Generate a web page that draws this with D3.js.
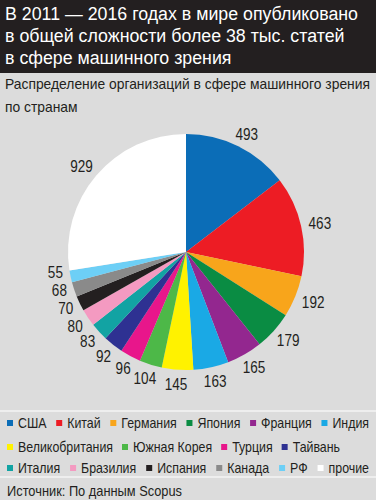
<!DOCTYPE html>
<html>
<head>
<meta charset="utf-8">
<script src="https://cdn.jsdelivr.net/npm/d3@7"></script>
<style>
  body { margin: 0; background: #dcdcdc; }
  svg { display: block; }
  text { font-family: "Liberation Sans", Arial, sans-serif; }
</style>
</head>
<body>
<script>
// data, clockwise from 12 o'clock
const countries = ['США', 'Китай', 'Германия', 'Япония', 'Франция', 'Индия',
  'Великобритания', 'Южная Корея', 'Турция', 'Тайвань',
  'Италия', 'Бразилия', 'Испания', 'Канада', 'РФ', 'прочие'];
const counts = [493, 463, 192, 179, 165, 163, 145, 104, 96, 92, 83, 80, 70, 68, 55, 929];
const colors = ['#0b6db7', '#ed1c24', '#f8a51b', '#0a8c43', '#93278f', '#1aa9e5',
  '#fff200', '#4db848', '#e8168b', '#2e3192', '#12a3a3', '#f49ac1',
  '#231f20', '#8a8a8a', '#6dcff6', '#ffffff'];
const legendRows = [6, 4, 6]; // items per legend line
const titleLines = ['В 2011 — 2016 годах в мире опубликовано',
  'в общей сложности более 38 тыс. статей', 'в сфере машинного зрения'];
const subtitleLines = ['Распределение организаций в сфере машинного зрения', 'по странам'];
const source = 'Источник: По данным Scopus';

const W = 376, H = 500;
const ink = '#231f20';
const svg = d3.select('body').append('svg').attr('width', W).attr('height', H);

// the original face is a condensed grotesque, so squeeze a normal one
function squeeze(sel, factor) {
  sel.each(function () {
    const w = this.getComputedTextLength();
    d3.select(this).attr('textLength', w * factor).attr('lengthAdjust', 'spacingAndGlyphs');
  });
}
function factorFor(node, target) { return target / node.getComputedTextLength(); }
const lenOf = node => +node.getAttribute('textLength');

svg.append('rect').attr('width', W).attr('height', H).attr('fill', '#dcdcdc');

// dark header
svg.append('rect').attr('width', W).attr('height', 73).attr('fill', ink);
const title = svg.append('g').selectAll('text')
  .data(titleLines)
  .join('text')
  .attr('x', 5)
  .attr('y', (d, i) => 20 + i * 22)
  .attr('fill', '#fff')
  .attr('font-size', 18)
  .text(d => d);
squeeze(title, factorFor(title.node(), 353));

const sub = svg.append('g').selectAll('text')
  .data(subtitleLines)
  .join('text')
  .attr('x', 5)
  .attr('y', (d, i) => 89 + i * 23)
  .attr('fill', ink)
  .attr('font-size', 14.5)
  .text(d => d);
squeeze(sub, factorFor(sub.node(), 365));

// pie
const cx = 186, cy = 252, r = 118;
const data = countries.map((c, i) => ({ name: c, value: counts[i], color: colors[i] }));
const pie = d3.pie().value(d => d.value).sort(null);
const arc = d3.arc().innerRadius(0).outerRadius(r);
const arcs = pie(data);

const gPie = svg.append('g').attr('transform', `translate(${cx},${cy})`);
gPie.selectAll('path')
  .data(arcs)
  .join('path')
  .attr('d', arc)
  .attr('fill', d => d.data.color);

const labels = gPie.selectAll('text.lab')
  .data(arcs)
  .join('text')
  .attr('class', 'lab')
  .attr('font-size', 16.5)
  .attr('fill', ink)
  .attr('text-anchor', 'middle')
  .attr('dominant-baseline', 'central')
  .text(d => d.data.value);
squeeze(labels, 0.82);

const pos = [];
labels.each(function (d) {
  const a = (d.startAngle + d.endAngle) / 2;
  const sx = Math.sin(a), sy = -Math.cos(a);
  const w = lenOf(this);
  const gap = r + 8;
  pos.push({ el: this, a, x: sx * gap + sx * w / 2, y: sy * gap + sy * 6 });
});
// thin slices at the left: push crowded labels upward
const left = pos.filter(p => p.a > 1.3 * Math.PI && p.a < 1.6 * Math.PI).sort((a, b) => b.y - a.y);
for (let i = 1; i < left.length; i++) {
  if (left[i - 1].y - left[i].y < 18) left[i].y = left[i - 1].y - 18;
}
pos.forEach(p => d3.select(p.el).attr('x', p.x).attr('y', p.y));

// legend
svg.append('line').attr('x1', 0).attr('x2', W).attr('y1', 411).attr('y2', 411)
  .attr('stroke', '#f4f4f4').attr('stroke-width', 1.5);
svg.append('line').attr('x1', 0).attr('x2', W).attr('y1', 477).attr('y2', 477)
  .attr('stroke', '#f4f4f4').attr('stroke-width', 1.5);

const rowY = [423, 447, 468];
const rowEnd = [369, null, 369];
const probe = svg.append('text').attr('font-size', 14.5).text('Великобритания');
const legF = factorFor(probe.node(), 95);
probe.remove();
let k = 0;
legendRows.forEach((n, ri) => {
  const items = data.slice(k, k + n);
  k += n;
  const it = svg.append('g').selectAll('g')
    .data(items)
    .join('g');
  it.append('rect')
    .attr('width', 6).attr('height', 6)
    .attr('y', rowY[ri] - 3)
    .attr('fill', d => d.color);
  const txt = it.append('text')
    .attr('x', 11)
    .attr('y', rowY[ri])
    .attr('dominant-baseline', 'central')
    .attr('font-size', 14.5)
    .attr('fill', ink)
    .text(d => d.name);
  squeeze(txt, legF);
  const widths = [];
  txt.each(function () { widths.push(11 + lenOf(this)); });
  const total = d3.sum(widths);
  let gap = 9;
  if (rowEnd[ri]) gap = (rowEnd[ri] - 7 - total) / (n - 1);
  let x = 7;
  it.each(function (d, i) {
    d3.select(this).attr('transform', `translate(${x},0)`);
    x += widths[i] + gap;
  });
});

const src = svg.append('text')
  .attr('x', 7)
  .attr('y', 491)
  .attr('dominant-baseline', 'central')
  .attr('font-size', 14.5)
  .attr('fill', ink)
  .text(source);
squeeze(src, factorFor(src.node(), 175));
</script>
</body>
</html>
